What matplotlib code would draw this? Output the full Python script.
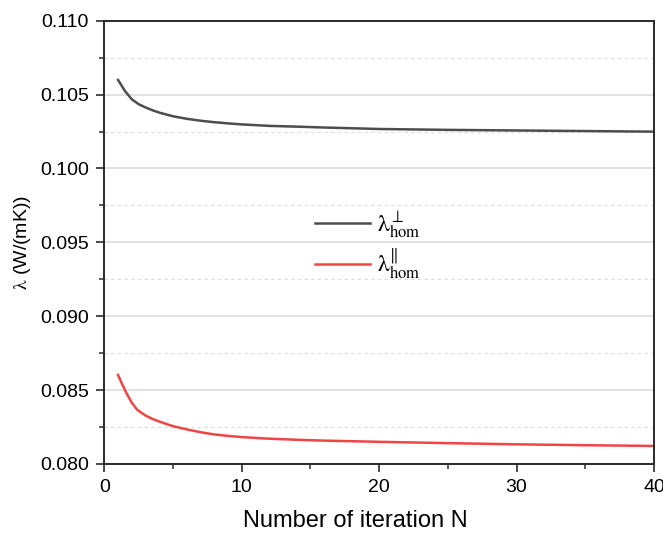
import matplotlib
matplotlib.use("Agg")
import matplotlib.pyplot as plt
from matplotlib.ticker import MultipleLocator

plt.rcParams["font.family"] = ["Liberation Sans", "DejaVu Sans"]
plt.rcParams["mathtext.fontset"] = "stix"

# valores
iter_perp = [1, 1.5, 2, 2.5, 3, 3.5, 4, 5, 6, 7, 8, 9, 10, 12, 14, 16, 18,
             20, 25, 30, 35, 40]
lambda_perp = [0.10599, 0.10525, 0.10468, 0.10435, 0.10413, 0.10394, 0.10378,
               0.10353, 0.10336, 0.10323, 0.10313, 0.10305, 0.10298, 0.10288,
               0.10283, 0.10277, 0.10272, 0.10267, 0.10261, 0.10257, 0.10253,
               0.10249]
iter_par = [1, 1.3, 1.6, 2, 2.4, 3, 3.5, 4, 5, 6, 7, 8, 9, 10, 12, 14, 16,
            18, 20, 25, 30, 35, 40]
lambda_par = [0.08603, 0.08540, 0.08482, 0.08415, 0.08366, 0.08328, 0.08305,
              0.08287, 0.08256, 0.08234, 0.08215, 0.08200, 0.08190, 0.08182,
              0.08171, 0.08164, 0.08158, 0.08154, 0.08150, 0.08141, 0.08133,
              0.08127, 0.08122]

etiquetas = [r"$\mathrm{\lambda}^{\perp}_{\mathrm{hom}}$",
             r"$\mathrm{\lambda}^{\Vert}_{\mathrm{hom}}$"]

fig = plt.figure(figsize=(6.63, 5.33), dpi=100)
ax = fig.add_axes([0.1573, 0.1295, 0.8291, 0.8317])

ax.plot(iter_perp, lambda_perp, color="#4d4d4d", lw=1.8, label=etiquetas[0])
ax.plot(iter_par, lambda_par, color="#f04545", lw=1.8, label=etiquetas[1])

ax.set_xlim(0, 40)
ax.set_ylim(0.080, 0.110)
ax.xaxis.set_major_locator(MultipleLocator(10))
ax.xaxis.set_minor_locator(MultipleLocator(5))
ax.yaxis.set_major_locator(MultipleLocator(0.005))
ax.yaxis.set_minor_locator(MultipleLocator(0.0025))
ax.yaxis.set_major_formatter(lambda v, pos: f"{v:.3f}")

ax.grid(axis="y", which="major", color="#d9d9d9", lw=1.1, ls="-")
ax.grid(axis="y", which="minor", color="#dcdcdc", lw=0.8, ls=(0, (3, 3)))
ax.set_axisbelow(True)

for lado in ax.spines.values():
    lado.set_color("#2b2b2b")
    lado.set_linewidth(1.4)
ax.tick_params(which="major", direction="out", length=6, width=1.2,
               color="#2b2b2b", labelsize=14, pad=5)
ax.tick_params(which="minor", direction="out", length=3.5, width=1.1,
               color="#2b2b2b")
ax.tick_params(axis="y", which="both", right=False)

ax.set_xlabel("Number of iteration N", fontsize=17)
ax.xaxis.set_label_coords(0.456, -0.104)
ax.set_ylabel(r"$\mathrm{\lambda}$ (W/(mK))", fontsize=14, labelpad=5)

ax.legend(loc="upper left", bbox_to_anchor=(0.384, 0.575), frameon=False,
          fontsize=17, handlelength=2.3, handletextpad=0.3,
          labelspacing=0.3, borderpad=0, borderaxespad=0)

fig.savefig("out.png", dpi=100)
